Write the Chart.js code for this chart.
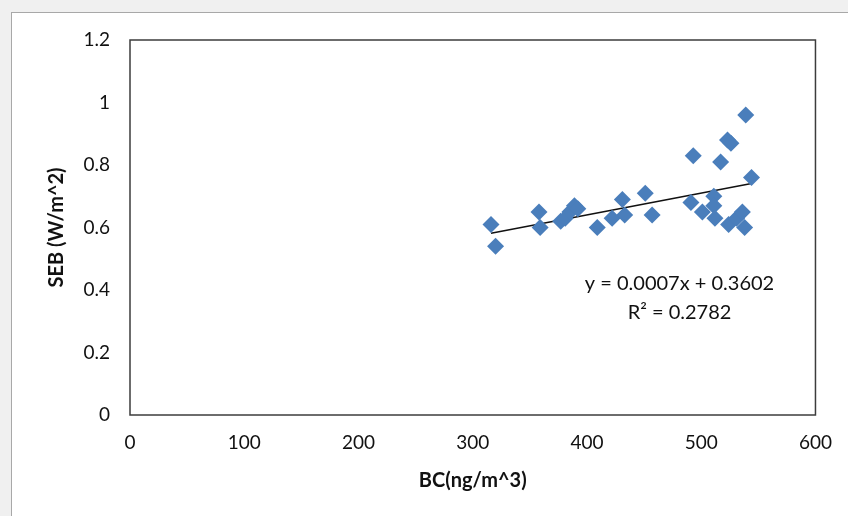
<!DOCTYPE html>
<html>
<head>
<meta charset="utf-8">
<script src="https://cdn.jsdelivr.net/npm/chart.js@4/dist/chart.umd.min.js"></script>
<style>
    html, body { margin: 0; padding: 0; background: #f0f0f0; }
    #panel {
        position: absolute; left: 11px; top: 12px; width: 850px; height: 520px;
        background: #fff; border: 1px solid #a8a8a8;
    }
    #wrap { position: absolute; left: 0; top: 0; width: 848px; height: 516px; }
</style>
</head>
<body>
<div id="panel"></div>
<div id="wrap"><canvas id="chart" width="848" height="516"></canvas></div>
<script>
// BC concentration (ng/m^3) vs SEB (W/m^2)
const bc = [316, 320, 358, 359, 377, 381, 385, 389, 392, 409, 422, 431, 433, 451, 457,
            491, 493, 501, 511, 511, 512, 517, 523, 526, 524, 531, 536, 538, 539, 544];
const seb = [0.61, 0.54, 0.65, 0.60, 0.62, 0.63, 0.65, 0.67, 0.66, 0.60, 0.63, 0.69, 0.64, 0.71, 0.64,
             0.68, 0.83, 0.65, 0.70, 0.67, 0.63, 0.81, 0.88, 0.87, 0.61, 0.63, 0.65, 0.60, 0.96, 0.76];

const xTicks = [0, 100, 200, 300, 400, 500, 600];
const yTicks = [0, 0.2, 0.4, 0.6, 0.8, 1, 1.2];

// linear trendline
const slope = 0.0007;
const intercept = 0.3602;
const r2 = 0.2782;

const points = bc.map((x, i) => ({ x, y: seb[i] }));
const xMin = Math.min(...bc);
const xMax = Math.max(...bc);
const trend = [
    { x: xMin, y: slope * xMin + intercept },
    { x: xMax, y: slope * xMax + intercept }
];

const FONT = "Lato, 'Open Sans', sans-serif";
const INK = '#111';

const frame = {
    id: 'frame',
    afterDraw(chart) {
        const { ctx, chartArea: a } = chart;
        ctx.save();
        ctx.strokeStyle = '#3c3c3c';
        ctx.lineWidth = 1.5;
        ctx.strokeRect(a.left, a.top, a.right - a.left, a.bottom - a.top);

        // equation box
        const x = chart.scales.x.getPixelForValue(481);
        ctx.fillStyle = INK;
        ctx.font = '20px ' + FONT;
        ctx.textAlign = 'center';
        ctx.textBaseline = 'middle';
        ctx.fillText('y = ' + slope.toFixed(4) + 'x + ' + intercept.toFixed(4), x, 284);
        ctx.fillText('R² = ' + r2.toFixed(4), x, 313);
        ctx.restore();
    }
};

new Chart(document.getElementById('chart'), {
    type: 'scatter',
    data: {
        datasets: [{
            data: points,
            pointStyle: 'rectRot',
            pointRadius: 8.5,
            pointHoverRadius: 8.5,
            backgroundColor: '#4a7ebb',
            borderColor: '#4a7ebb',
            borderWidth: 0
        }, {
            type: 'line',
            data: trend,
            borderColor: '#111',
            borderWidth: 1.5,
            pointRadius: 0,
            fill: false
        }]
    },
    options: {
        responsive: false,
        animation: false,
        layout: { padding: { left: 0, top: 40, right: 31, bottom: 0 } },
        plugins: { legend: { display: false }, tooltip: { enabled: false } },
        scales: {
            x: {
                type: 'linear',
                min: 0, max: 600,
                afterBuildTicks: s => { s.ticks = xTicks.map(v => ({ value: v })); },
                afterFit: s => { s.height = 101; },
                grid: { display: false, drawTicks: false },
                border: { display: false },
                ticks: { padding: 16, color: INK, font: { family: FONT, size: 19 } },
                title: {
                    display: true, text: 'BC(ng/m^3)', color: INK,
                    font: { family: FONT, size: 20, weight: 'bold' },
                    padding: { top: 0, bottom: 23 }
                }
            },
            y: {
                min: 0, max: 1.2,
                afterBuildTicks: s => { s.ticks = yTicks.map(v => ({ value: v })); },
                afterFit: s => { s.width = 130; },
                grid: { display: false, drawTicks: false },
                border: { display: false },
                ticks: { padding: 20, color: INK, font: { family: FONT, size: 19 },
                         callback: v => String(v) },
                title: {
                    display: true, text: 'SEB (W/m^2)', color: INK,
                    font: { family: FONT, size: 20, weight: 'bold' },
                    padding: { top: 45, bottom: 0 }
                }
            }
        }
    },
    plugins: [frame]
});
</script>
</body>
</html>
